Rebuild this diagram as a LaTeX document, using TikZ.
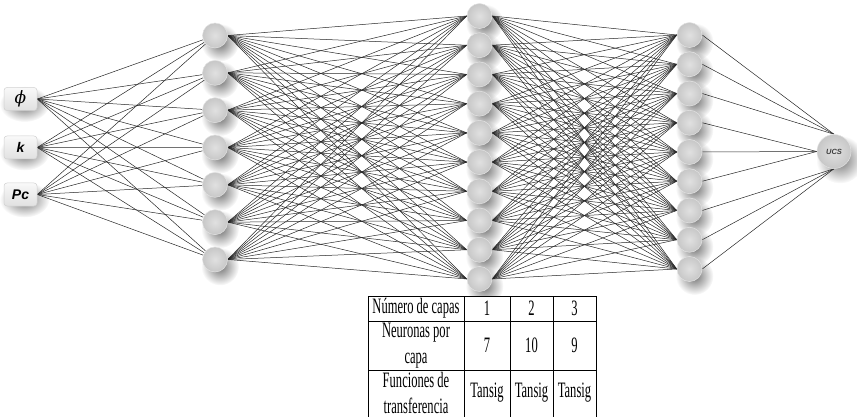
\documentclass[tikz,border=0pt]{standalone}
\usepackage{fontspec}
\setsansfont{Liberation Sans}
\newfontfamily\tabfont[FakeStretch=0.57]{Liberation Serif}
\newfontfamily\phifont{DejaVu Serif}
\usetikzlibrary{calc,fadings}
\tikzfading[name=softshadow, inner color=transparent!45, outer color=transparent!100]
\pgfdeclarelayer{shadowlayer}
\pgfdeclarelayer{linelayer}
\pgfsetlayers{shadowlayer,linelayer,main}
\tikzset{
  neuron/.style={circle, minimum size=25pt, inner sep=0pt, shading=radial,
    inner color=gray!24, outer color=gray!44, draw=gray!22, line width=0.5pt},
  outneuron/.style={neuron, minimum size=34pt},
  inbox/.style={rounded corners=3pt, minimum width=33pt, minimum height=23pt, inner sep=0pt,
    draw=gray!35, line width=0.5pt, top color=gray!5, bottom color=gray!24,
    text=black, font=\sffamily\bfseries\itshape\fontsize{14}{14}\selectfont},
  conn/.style={black!85, line width=0.5pt},
  tabtxt/.style={font=\tabfont\fontsize{22}{26}\selectfont, align=center, inner sep=0pt},
  gridline/.style={black, line width=0.9pt},
  shadowfill/.style={fill=black, path fading=softshadow}
}
\begin{document}
\begin{tikzpicture}[x=1pt,y=-1pt]
\useasboundingbox (0,0) rectangle (857,417);
% input boxes
\node[inbox] (i1) at (20.5,99) {\phifont\mdseries\itshape\fontsize{17}{17}\selectfont ϕ};
\node[inbox] (i2) at (20.5,147.5) {k};
\node[inbox] (i3) at (20.5,194.5) {Pc};
% layers
\foreach \j in {1,...,7}
  \node[neuron] (a\j) at (215,{35.5+37.33*(\j-1)}) {};
\foreach \j in {1,...,10}
  \node[neuron] (b\j) at (479.5,{16+29.22*(\j-1)}) {};
\foreach \j in {1,...,9}
  \node[neuron] (c\j) at (689.5,{35+29.25*(\j-1)}) {};
\node[outneuron] (o) at (834,151.5) {\sffamily\bfseries\itshape\fontsize{7.5}{7.5}\selectfont\textcolor{black!75}{UCS}};
% shadows
\begin{pgfonlayer}{shadowlayer}
  \foreach \n in {a1,a2,a3,a4,a5,a6,a7,b1,b2,b3,b4,b5,b6,b7,b8,b9,b10,c1,c2,c3,c4,c5,c6,c7,c8,c9}
    \fill[shadowfill] ($(\n.center)+(5,7)$) circle (19);
  \fill[shadowfill] ($(o.center)+(6,8)$) circle (24);
  \foreach \n in {i1,i2,i3}
    \fill[shadowfill] ($(\n.center)+(4,5)$) ellipse (25 and 18);
\end{pgfonlayer}
% connectors
\begin{pgfonlayer}{linelayer}
  \foreach \i in {1,2,3}
    \foreach \j in {1,...,7}
      \draw[conn] (i\i.east) -- (a\j);
  \foreach \i in {1,...,7}
    \foreach \j in {1,...,10}
      \draw[conn] (a\i.east) -- (b\j.west);
  \foreach \i in {1,...,10}
    \foreach \j in {1,...,9}
      \draw[conn] (b\i.east) -- (c\j.west);
  \foreach \i in {1,2,3}
    \draw[conn] (c\i.east) -- (o.north);
  \foreach \i in {4,5,6}
    \draw[conn] (c\i.east) -- (o.west);
  \foreach \i in {7,8,9}
    \draw[conn] (c\i.east) -- (o.south);
\end{pgfonlayer}
% table
\fill[white] (368,296) rectangle (596,419);
\draw[gridline] (368,296) rectangle (596,419);
\draw[gridline] (368,321) -- (596,321);
\draw[gridline] (368,370) -- (596,370);
\draw[gridline] (464,296) -- (464,419);
\draw[gridline] (510,296) -- (510,419);
\draw[gridline] (553,296) -- (553,419);
\node[tabtxt] (t11) at (416,308.5) {Número de capas};
\node[tabtxt] (t12) at (487,308.5) {1};
\node[tabtxt] (t13) at (531.5,308.5) {2};
\node[tabtxt] (t14) at (574.5,308.5) {3};
\node[tabtxt] (t21) at (416,345.5) {Neuronas por\\capa};
\node[tabtxt] (t22) at (487,345.5) {7};
\node[tabtxt] (t23) at (531.5,345.5) {10};
\node[tabtxt] (t24) at (574.5,345.5) {9};
\node[tabtxt] (t31) at (416,393) {Funciones de\\transferencia};
\node[tabtxt] (t32) at (487,393) {Tansig};
\node[tabtxt] (t33) at (531.5,393) {Tansig};
\node[tabtxt] (t34) at (574.5,393) {Tansig};
\end{tikzpicture}
\end{document}
